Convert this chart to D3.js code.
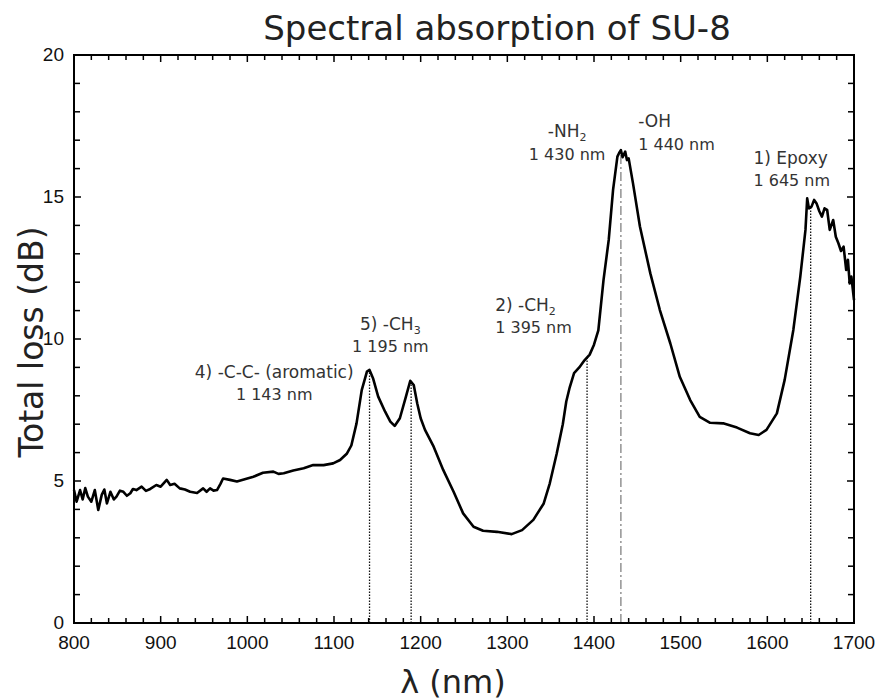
<!DOCTYPE html>
<html>
<head>
<meta charset="UTF-8">
<title>Spectral absorption of SU-8</title>
<script src="https://d3js.org/d3.v7.min.js"></script>
<style>
    body { margin: 0; padding: 0; background: #fff; }
    svg { display: block; }
    .tick-label { font-family: "Liberation Sans", Arial, sans-serif; font-size: 19px; fill: #111; }
    .ann { font-family: "DejaVu Sans", sans-serif; font-size: 17px; fill: #333; }
    .axis-title { font-family: "DejaVu Sans", sans-serif; fill: #222; }
</style>
</head>
<body>
<svg id="chart" width="876" height="700"></svg>
<script>
// measured spectrum (nm, dB)
const wavelength = [
    800, 803, 807, 810, 813, 816, 820, 824, 828, 832, 835, 838, 842, 846, 849, 853, 857, 861, 865, 868,
    872, 878, 883, 888, 895, 900, 907, 911, 916, 922, 928, 934, 942, 949, 953, 957, 961, 965, 969, 972,
    980, 988, 995, 1007, 1018, 1030, 1036, 1042, 1053, 1065, 1076, 1088, 1099, 1107, 1115, 1120, 1126, 1132, 1138, 1141,
    1145, 1151, 1159, 1165, 1170, 1176, 1183, 1188, 1192, 1196, 1200, 1205, 1215, 1226, 1238, 1249, 1261, 1272, 1288, 1305,
    1317, 1330, 1342, 1349, 1357, 1364, 1368, 1372, 1377, 1383, 1389, 1395, 1400, 1405, 1411, 1417, 1422, 1427, 1429, 1431,
    1433, 1436, 1438, 1440, 1445, 1453, 1465, 1476, 1488, 1499, 1511, 1522, 1534, 1549, 1565, 1580, 1590, 1599, 1611, 1620,
    1630, 1638, 1644, 1646, 1648, 1651, 1654, 1657, 1660, 1663, 1666, 1669, 1672, 1676, 1679, 1682, 1685, 1688, 1691, 1693,
    1695, 1697, 1700
];
const totalLoss = [
    4.68, 4.27, 4.68, 4.35, 4.75, 4.45, 4.27, 4.68, 3.98, 4.51, 4.70, 4.21, 4.62, 4.35, 4.45, 4.66, 4.62, 4.48, 4.57, 4.72,
    4.68, 4.80, 4.65, 4.72, 4.86, 4.80, 5.04, 4.86, 4.90, 4.74, 4.70, 4.62, 4.58, 4.74, 4.62, 4.74, 4.66, 4.68, 4.90, 5.09,
    5.04, 4.98, 5.04, 5.15, 5.29, 5.33, 5.25, 5.27, 5.37, 5.45, 5.56, 5.56, 5.62, 5.74, 5.97, 6.25, 7.03, 8.20, 8.85, 8.91,
    8.62, 7.97, 7.44, 7.09, 6.94, 7.21, 7.97, 8.53, 8.38, 7.74, 7.21, 6.80, 6.21, 5.39, 4.62, 3.86, 3.39, 3.25, 3.21, 3.13,
    3.27, 3.63, 4.21, 4.92, 5.97, 7.00, 7.80, 8.30, 8.80, 9.00, 9.25, 9.45, 9.80, 10.3, 12.08, 13.49, 15.25, 16.42, 16.55, 16.65,
    16.40, 16.60, 16.30, 16.36, 15.48, 13.96, 12.31, 11.02, 9.85, 8.67, 7.85, 7.26, 7.05, 7.03, 6.88, 6.68, 6.62, 6.80, 7.38, 8.56,
    10.32, 12.19, 13.84, 14.95, 14.60, 14.66, 14.90, 14.76, 14.50, 14.31, 14.60, 14.55, 13.84, 14.19, 13.60, 13.37, 13.10, 13.25, 12.43, 12.79,
    11.96, 12.20, 11.37
];

// absorption band markers
const bandNm = [1141, 1189, 1392, 1431, 1650];
const bandDash = ["dot", "dot", "dot", "dashdot", "dot"];

// band labels: name, wavelength text
const labelName = ["4) -C-C- (aromatic)", "5) -CH|3", "2) -CH|2", "-NH|2", "-OH", "1) Epoxy"];
const labelNm = ["1 143 nm", "1 195 nm", "1 395 nm", "1 430 nm", "1 440  nm", "1 645 nm"];

const xTicks = d3.range(800, 1701, 100);
const yTicks = [0, 5, 10, 15, 20];

const width = 876, height = 700;
const margin = { top: 55, right: 22, bottom: 77, left: 74 };

const svg = d3.select("#chart");

const x = d3.scaleLinear().domain([800, 1700]).range([margin.left, width - margin.right]);
const y = d3.scaleLinear().domain([0, 20]).range([height - margin.bottom, margin.top]);

// title
svg.append("text")
    .attr("class", "axis-title")
    .attr("x", 497).attr("y", 40)
    .attr("text-anchor", "middle")
    .style("font-size", "34px")
    .text("Spectral absorption of SU-8");

// band marker lines, from 0 up to the curve
const lossAt = nm => {
    const i = d3.bisectLeft(wavelength, nm);
    if (i <= 0) return totalLoss[0];
    const x0 = wavelength[i - 1], x1 = wavelength[i];
    const t = (nm - x0) / (x1 - x0);
    return totalLoss[i - 1] + t * (totalLoss[i] - totalLoss[i - 1]);
};

svg.append("g").selectAll("line")
    .data(bandNm)
    .join("line")
    .attr("x1", d => x(d)).attr("x2", d => x(d))
    .attr("y1", y(0)).attr("y2", d => y(lossAt(d)))
    .attr("stroke", (d, i) => bandDash[i] === "dot" ? "#111" : "#999")
    .attr("stroke-width", (d, i) => bandDash[i] === "dot" ? 1.3 : 1.6)
    .attr("stroke-dasharray", (d, i) => bandDash[i] === "dot" ? "1.5,1.5" : "9,3,2,3");

// spectrum
const line = d3.line()
    .x((d, i) => x(wavelength[i]))
    .y(d => y(d));

svg.append("path")
    .datum(totalLoss)
    .attr("fill", "none")
    .attr("stroke", "#000")
    .attr("stroke-width", 2.6)
    .attr("stroke-linejoin", "round")
    .attr("d", line);

// frame
svg.append("rect")
    .attr("x", x(800)).attr("y", y(20))
    .attr("width", x(1700) - x(800)).attr("height", y(0) - y(20))
    .attr("fill", "none").attr("stroke", "#000").attr("stroke-width", 2);

// inward ticks
const tg = svg.append("g").attr("stroke", "#000").attr("stroke-width", 1.5);
d3.range(800, 1701, 20).forEach(v => {
    const len = v % 100 === 0 ? 7 : 5;
    tg.append("line").attr("x1", x(v)).attr("x2", x(v)).attr("y1", y(0)).attr("y2", y(0) - len);
    tg.append("line").attr("x1", x(v)).attr("x2", x(v)).attr("y1", y(20)).attr("y2", y(20) + len);
});
d3.range(0, 21, 1).forEach(v => {
    const len = v % 5 === 0 ? 7 : 6;
    tg.append("line").attr("x1", x(800)).attr("x2", x(800) + len).attr("y1", y(v)).attr("y2", y(v));
    tg.append("line").attr("x1", x(1700)).attr("x2", x(1700) - len).attr("y1", y(v)).attr("y2", y(v));
});

// tick labels
svg.append("g").selectAll("text")
    .data(xTicks)
    .join("text")
    .attr("class", "tick-label")
    .attr("x", d => x(d)).attr("y", y(0) + 26)
    .attr("text-anchor", "middle")
    .text(d => d);

svg.append("g").selectAll("text")
    .data(yTicks)
    .join("text")
    .attr("class", "tick-label")
    .attr("x", x(800) - 10).attr("y", d => y(d) + 6)
    .attr("text-anchor", "end")
    .text(d => d);

// axis titles
svg.append("text")
    .attr("class", "axis-title")
    .attr("transform", `translate(43,${(y(0) + y(20)) / 2 + 3}) rotate(-90)`)
    .attr("text-anchor", "middle")
    .style("font-size", "33px")
    .text("Total loss (dB)");

svg.append("text")
    .attr("class", "axis-title")
    .attr("x", 453).attr("y", 693)
    .attr("text-anchor", "middle")
    .style("font-size", "32px")
    .text("λ (nm)");

// label placement in data units: [nm, dB of first baseline, anchor]
const labelPos = [
    [1031, 8.63, "middle"],
    [1165, 10.32, "middle"],
    [1286, 10.99, "start"],
    [1369, 17.11, "middle"],
    [1451, 17.46, "start"],
    [1584, 16.16, "start"]
];
const lineGap = 0.79;

labelName.forEach((name, i) => {
    const [nm, db, anchor] = labelPos[i];
    const t = svg.append("text")
        .attr("class", "ann")
        .attr("x", x(nm)).attr("y", y(db))
        .attr("text-anchor", anchor);
    const parts = name.split("|");
    t.append("tspan").text(parts[0]);
    if (parts[1]) {
        t.append("tspan").attr("dy", 4).style("font-size", "11px").text(parts[1]);
    }
    svg.append("text")
        .attr("class", "ann")
        .attr("x", x(nm)).attr("y", y(db - lineGap))
        .attr("text-anchor", anchor)
        .style("font-size", "16px")
        .text(labelNm[i]);
});
</script>
</body>
</html>
